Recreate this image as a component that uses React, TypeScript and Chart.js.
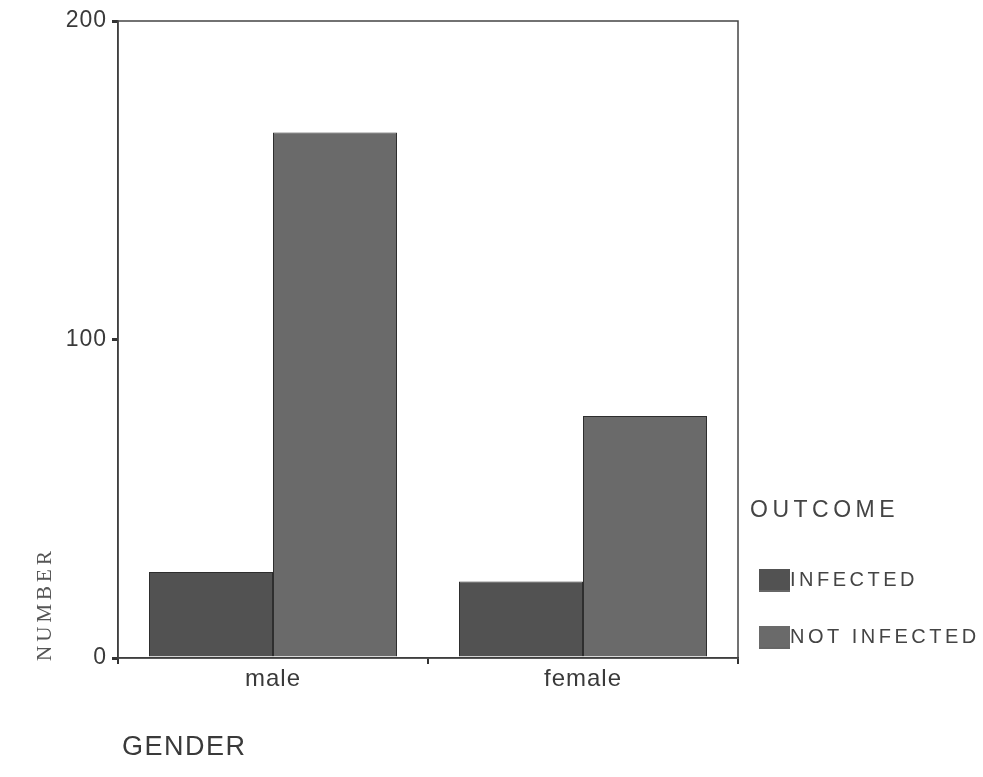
import React, { useEffect, useRef } from "react";
import { Chart, registerables } from "chart.js";

Chart.register(...registerables);

const categories = ["male", "female"];
const infected = [27, 24];
const notInfected = [165, 76];
const yTicks = [0, 100, 200];
const legendTitle = "OUTCOME";
const seriesNames = ["INFECTED", "NOT INFECTED"];
const xTitle = "GENDER";
const yTitle = "NUMBER";

const colors = ["#525252", "#6a6a6a"];
const SANS = "'Liberation Sans', Arial, sans-serif";

const framePlugin = {
  id: "frameAndLabels",
  beforeDraw(chart: any) {
    (chart.ctx as any).letterSpacing = "1px";
  },
  afterDraw(chart: any) {
    const { ctx, chartArea } = chart;
    ctx.save();
    (ctx as any).letterSpacing = "0px";
    // frame
    ctx.strokeStyle = "#444";
    ctx.lineWidth = 1.5;
    ctx.strokeRect(chartArea.left, chartArea.top, chartArea.right - chartArea.left, chartArea.bottom - chartArea.top);
    // x title
    ctx.fillStyle = "#3a3a3a";
    ctx.font = `27px ${SANS}`;
    (ctx as any).letterSpacing = "1.5px";
    ctx.textAlign = "left";
    ctx.textBaseline = "middle";
    ctx.fillText(xTitle, 122, 748);
    // y title rotated serif
    ctx.save();
    ctx.translate(45, 604);
    ctx.rotate(-Math.PI / 2);
    ctx.textAlign = "center";
    (ctx as any).letterSpacing = "4px";
    ctx.font = "21px 'Liberation Serif', 'Times New Roman', serif";
    ctx.fillStyle = "#555";
    ctx.fillText(yTitle, 0, 0);
    ctx.restore();
    // legend
    ctx.fillStyle = "#444";
    ctx.font = `23px ${SANS}`;
    (ctx as any).letterSpacing = "4.5px";
    ctx.textAlign = "left";
    ctx.fillText(legendTitle, 750, 511);
    const rows = [580, 637];
    chart.data.datasets.forEach((ds: any, i: number) => {
      const y = rows[i];
      ctx.fillStyle = ds.backgroundColor;
      ctx.fillRect(759, y - 11, 31, 21);
      ctx.strokeStyle = "#333";
      ctx.lineWidth = 1.5;
      ctx.beginPath();
      ctx.moveTo(759, y + 11);
      ctx.lineTo(790, y + 11);
      ctx.stroke();
      ctx.fillStyle = "#444";
      ctx.font = `20px ${SANS}`;
      (ctx as any).letterSpacing = "3.5px";
      ctx.fillText(ds.label, 790, y);
    });
    ctx.restore();
  },
};

export default function App() {
  const ref = useRef<HTMLCanvasElement | null>(null);
  useEffect(() => {
    if (!ref.current) return;
    const chart = new Chart(ref.current, {
      type: "bar",
      data: {
        labels: categories,
        datasets: [
          {
            label: seriesNames[0],
            data: infected,
            backgroundColor: colors[0],
            borderColor: "#2e2e2e",
            borderWidth: 1,
            categoryPercentage: 0.8,
            barPercentage: 1.0,
          },
          {
            label: seriesNames[1],
            data: notInfected,
            backgroundColor: colors[1],
            borderColor: "#2e2e2e",
            borderWidth: 1,
            categoryPercentage: 0.8,
            barPercentage: 1.0,
          },
        ],
      },
      options: {
        animation: false,
        responsive: false,
        maintainAspectRatio: false,
        layout: { padding: { left: 0, top: 21, right: 245, bottom: 0 } },
        plugins: { legend: { display: false }, tooltip: { enabled: false } },
        scales: {
          x: {
            grid: { drawOnChartArea: false, drawTicks: true, tickLength: 6, color: "#333", lineWidth: 2 },
            border: { display: true, color: "#333", width: 1.5 },
            ticks: {
              color: "#3a3a3a",
              font: { family: SANS, size: 24 },
              padding: 1,
            },
            afterFit(scale: any) {
              scale.height = 119;
            },
          },
          y: {
            min: 0,
            max: 200,
            afterBuildTicks(scale: any) {
              scale.ticks = yTicks.map((v) => ({ value: v }));
            },
            grid: { drawOnChartArea: false, drawTicks: true, tickLength: 6, color: "#333", lineWidth: 3 },
            border: { display: true, color: "#333", width: 1.5 },
            ticks: {
              color: "#3a3a3a",
              font: { family: SANS, size: 23 },
              padding: 5,
            },
            afterFit(scale: any) {
              scale.width = 118;
            },
          },
        },
      },
      plugins: [framePlugin],
    });
    return () => chart.destroy();
  }, []);
  return (
    <div style={{ position: "fixed", left: 0, top: 0, width: 983, height: 777, background: "#fff" }}>
      <canvas ref={ref} width={983} height={777} style={{ width: 983, height: 777 }} />
    </div>
  );
}
